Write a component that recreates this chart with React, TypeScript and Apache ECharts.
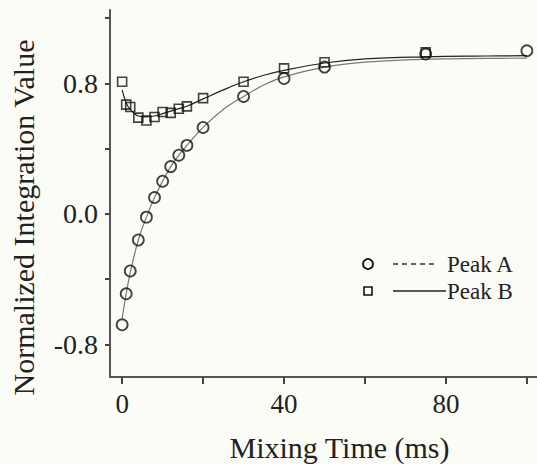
import React, { useEffect, useRef } from "react";
import * as echarts from "echarts";

// Measured points
const peakAX = [0, 1, 2, 4, 6, 8, 10, 12, 14, 16, 20, 30, 40, 50, 75, 100];
const peakAY = [-0.68, -0.49, -0.35, -0.16, -0.02, 0.1, 0.2, 0.29, 0.36, 0.42, 0.53, 0.72, 0.83, 0.9, 0.98, 1.0];
const peakBX = [0, 1, 2, 4, 6, 8, 10, 12, 14, 16, 20, 30, 40, 50, 75];
const peakBY = [0.81, 0.67, 0.655, 0.59, 0.573, 0.594, 0.625, 0.619, 0.645, 0.659, 0.71, 0.81, 0.892, 0.93, 0.99];

// Fit curves
const fitAX = [0, 1, 2, 4, 6, 8, 10, 12, 14, 16, 20, 25, 30, 35, 40, 50, 60, 75, 90, 100];
const fitAY = [-0.64, -0.49, -0.36, -0.16, -0.02, 0.1, 0.2, 0.29, 0.36, 0.42, 0.53, 0.64, 0.72, 0.79, 0.84, 0.9, 0.93, 0.948, 0.953, 0.955];
const fitBX = [0, 1, 2, 3, 4, 6, 8, 10, 12, 14, 16, 20, 25, 30, 35, 40, 50, 60, 75, 90, 100];
const fitBY = [0.76, 0.68, 0.64, 0.615, 0.6, 0.595, 0.6, 0.615, 0.63, 0.645, 0.66, 0.705, 0.76, 0.81, 0.85, 0.88, 0.925, 0.95, 0.963, 0.968, 0.97];

const seriesNames = ["Peak A", "Peak B"];
const xTicks = [0, 20, 40, 60, 80, 100];
const xLabels = [0, 40, 80];
const yTicks = [-0.8, -0.4, 0, 0.4, 0.8, 1.2];
const yLabels = [-0.8, 0, 0.8];

const zip = (xs: number[], ys: number[]) => xs.map((x, i) => [x, ys[i]]);

const FONT = "'Liberation Serif', 'DejaVu Serif', serif";

export default function App() {
  const ref = useRef<HTMLDivElement>(null);
  useEffect(() => {
    document.body.style.margin = "0";
    const chart = echarts.init(ref.current!, null, { renderer: "svg" });
    const axisLine = { show: true, onZero: false, lineStyle: { color: "#555", width: 2 } };
    chart.setOption({
      animation: false,
      backgroundColor: "#fcfcf7",
      textStyle: { fontFamily: FONT },
      grid: { left: 110, top: 10, right: 0, bottom: 87, containLabel: false, outerBoundsMode: "none" },
      xAxis: {
        type: "value",
        min: -3,
        max: 102.5,
        name: "Mixing Time (ms)",
        nameLocation: "middle",
        nameGap: 55,
        nameTextStyle: { fontFamily: FONT, fontSize: 30, color: "#222", padding: [0, 0, 0, 32] },
        axisLine,
        axisTick: { show: true, customValues: xTicks, length: 7, lineStyle: { color: "#444", width: 2 } },
        axisLabel: { customValues: xLabels, fontFamily: FONT, fontSize: 27, color: "#222", margin: 13 },
        splitLine: { show: false },
      },
      yAxis: {
        type: "value",
        min: -1.0,
        max: 1.25,
        name: "Normalized Integration Value",
        nameLocation: "middle",
        nameRotate: 90,
        nameGap: 72,
        nameTextStyle: { fontFamily: FONT, fontSize: 30, color: "#222", padding: [0, 48, 0, 0] },
        axisLine,
        axisTick: { show: true, customValues: yTicks, length: 5, lineStyle: { color: "#444", width: 2 } },
        axisLabel: {
          customValues: yLabels,
          fontFamily: FONT,
          fontSize: 28,
          color: "#222",
          margin: 12,
          formatter: (v: number) => v.toFixed(1),
        },
        splitLine: { show: false },
      },
      series: [
        {
          name: seriesNames[0] + " fit",
          type: "line",
          data: zip(fitAX, fitAY),
          showSymbol: false,
          smooth: 0.4,
          lineStyle: { color: "#777", width: 1.2 },
          z: 1,
        },
        {
          name: seriesNames[1] + " fit",
          type: "line",
          data: zip(fitBX, fitBY),
          showSymbol: false,
          smooth: 0.4,
          lineStyle: { color: "#222", width: 1.2 },
          z: 1,
        },
        {
          name: seriesNames[0],
          type: "scatter",
          data: zip(peakAX, peakAY),
          symbol: "circle",
          symbolSize: 11,
          itemStyle: { color: "rgba(0,0,0,0)", borderColor: "#111", borderWidth: 1.8 },
          z: 2,
        },
        {
          name: seriesNames[1],
          type: "scatter",
          data: zip(peakBX, peakBY),
          symbol: "rect",
          symbolSize: 9,
          itemStyle: { color: "rgba(0,0,0,0)", borderColor: "#111", borderWidth: 1.6 },
          z: 2,
        },
      ],
      graphic: [
        { type: "circle", shape: { cx: 368, cy: 264, r: 5 }, style: { fill: "none", stroke: "#111", lineWidth: 1.8 } },
        { type: "line", shape: { x1: 393, y1: 264, x2: 438, y2: 264 }, style: { stroke: "#333", lineWidth: 1.3, lineDash: [5, 4] } },
        { type: "text", x: 447, y: 264, style: { text: seriesNames[0], font: `23px ${FONT}`, fill: "#222", textVerticalAlign: "middle", verticalAlign: "middle" } },
        { type: "rect", shape: { x: 364, y: 287, width: 8, height: 8 }, style: { fill: "none", stroke: "#111", lineWidth: 1.6 } },
        { type: "line", shape: { x1: 393, y1: 291, x2: 446, y2: 291 }, style: { stroke: "#222", lineWidth: 1.3 } },
        { type: "text", x: 447, y: 291, style: { text: seriesNames[1], font: `23px ${FONT}`, fill: "#222", textVerticalAlign: "middle", verticalAlign: "middle" } },
      ],
    });
    return () => chart.dispose();
  }, []);
  return <div ref={ref} style={{ width: 537, height: 464 }} />;
}
